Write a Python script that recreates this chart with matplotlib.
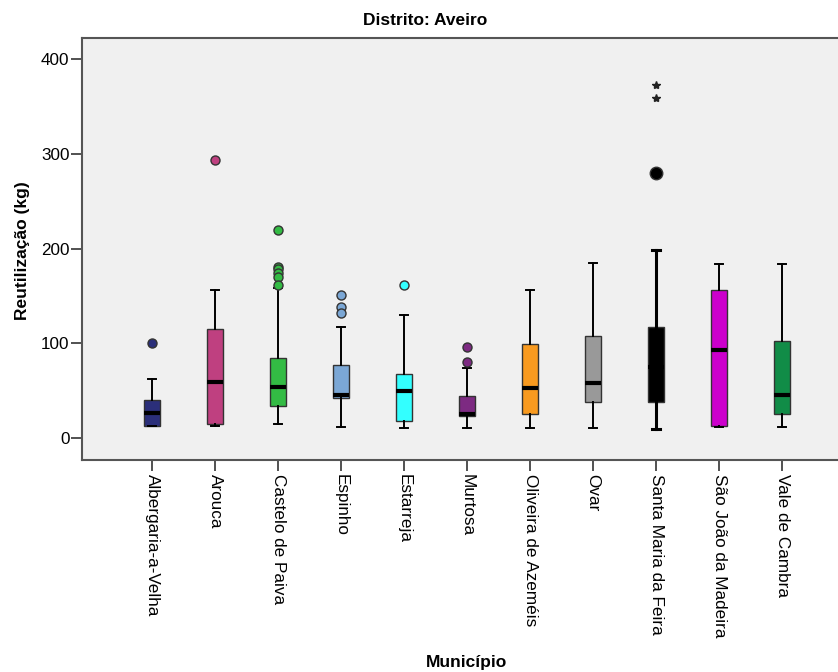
import matplotlib.pyplot as plt
import numpy as np

plt.rcParams['font.family'] = ['Liberation Sans', 'DejaVu Sans']

# data
municipios = ['Albergaria-a-Velha', 'Arouca', 'Castelo de Paiva', 'Espinho', 'Estarreja',
              'Murtosa', 'Oliveira de Azeméis', 'Ovar', 'Santa Maria da Feira',
              'São João da Madeira', 'Vale de Cambra']
whis_lo = [12.4, 12.4, 14.8, 11.9, 10.6, 10.3, 10.3, 10.9, 9.5, 11.9, 11.6]
q1 = [12.7, 14.5, 33.8, 42.6, 18.0, 23.6, 25.4, 38.4, 38.4, 12.7, 25.1]
median = [26.1, 59.5, 53.9, 45.5, 50.0, 25.7, 52.5, 58.5, 75.0, 93.3, 45.1]
q3 = [39.9, 114.9, 84.2, 77.5, 67.9, 44.1, 99.0, 107.8, 117.7, 156.1, 102.5]
whis_hi = [62.4, 156.1, 158.2, 117.3, 130.0, 73.7, 156.1, 185.0, 199.0, 183.9, 183.9]
outliers = [[100.4], [293.1], [219.6, 181.1, 178.3, 174.7, 169.9, 161.7],
            [150.8, 138.8, 132.5], [161.4], [96.2, 80.3], [], [], [279.4], [], []]
extremes = [[], [], [], [], [], [], [], [], [373.2, 359.4], [], []]
colors = ['#2b2f7a', '#bf4080', '#33bb44', '#7ba7d5', '#33ffff', '#7d2a82',
          '#f89a1f', '#999999', '#000000', '#cc00cc', '#118c47']

fig = plt.figure(figsize=(8.38, 6.72), dpi=100)
ax = fig.add_axes([82/838, 1-460/672, 756/838, 422/672])
ax.set_facecolor('#f0f0f0')

pos = np.arange(1, len(municipios)+1)
for i in range(len(municipios)):
    stats = [{'whislo': whis_lo[i], 'q1': q1[i], 'med': median[i], 'q3': q3[i],
              'whishi': whis_hi[i], 'fliers': []}]
    lw_w = 2.2 if colors[i] == '#000000' else 1.4
    ax.bxp(stats, positions=[pos[i]], widths=0.26, patch_artist=True,
           showfliers=False,
           boxprops=dict(facecolor=colors[i], edgecolor='#333333', linewidth=1),
           medianprops=dict(color='black', linewidth=3),
           whiskerprops=dict(color='black', linewidth=lw_w),
           capprops=dict(color='black', linewidth=lw_w),
           capwidths=0.13, manage_ticks=False)
    if outliers[i]:
        ms = 9 if colors[i] == '#000000' else 6.5
        ax.plot([pos[i]]*len(outliers[i]), outliers[i], 'o', ms=ms,
                mfc=colors[i], mec='#333333', mew=1, zorder=4)
    if extremes[i]:
        ax.plot([pos[i]]*len(extremes[i]), extremes[i], '*', ms=6,
                color='#222222', zorder=4)

ax.set_xlim(1 - 70/63, 1 + 686/63)
ax.set_ylim(-23.3, 422.5)
ax.set_yticks([0, 100, 200, 300, 400])
ax.set_xticks(pos)
ax.set_xticklabels(municipios, rotation=-90, ha='center', va='top', fontsize=12.3)
ax.tick_params(axis='y', labelsize=12.3, length=8, width=1.2, color='#333333', pad=1)
ax.tick_params(axis='x', length=8, width=1.2, color='#333333', pad=2)
for s in ['left', 'bottom', 'top']:
    ax.spines[s].set_color('#555555')
    ax.spines[s].set_linewidth(1.5)
ax.spines['right'].set_visible(False)

fig.text(425/838, 1-20.5/672, 'Distrito: Aveiro', ha='center', va='center',
         fontsize=12.5, fontweight='bold')
fig.text(466/838, 1-663/672, 'Município', ha='center', va='center',
         fontsize=12.5, fontweight='bold')
fig.text(22/838, 1-251/672, 'Reutilização (kg)', ha='center', va='center',
         rotation=90, fontsize=12.5, fontweight='bold')

plt.savefig('out.png', dpi=100)
